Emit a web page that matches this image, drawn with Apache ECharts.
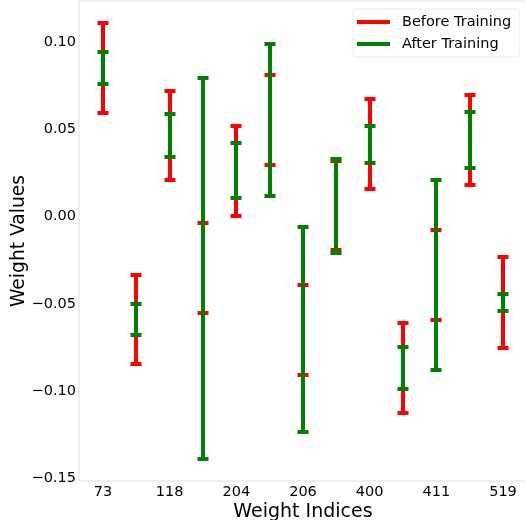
<!DOCTYPE html>
<html>
<head>
<meta charset="utf-8">
<script src="https://cdn.jsdelivr.net/npm/echarts@6/dist/echarts.min.js"></script>
<style>html,body{margin:0;padding:0;background:#fff;}#c{width:525px;height:520px;}</style>
</head>
<body>
<div id="c"></div>
<script>
// Tick labels shown on the x axis (every other weight position)
var tickLabels = ['73', '118', '204', '206', '400', '411', '519'];
// Range (low / high) of each weight before training
var beforeLow  = [0.0596, -0.0845, 0.0209, -0.0552, 0.0006, 0.0298, -0.0906, -0.0191, 0.0159, -0.1126, -0.0594, 0.0184, -0.0751];
var beforeHigh = [0.1112, -0.0333, 0.0723, -0.0038, 0.0520, 0.0814, -0.0390, 0.0318, 0.0673, -0.0610, -0.0078, 0.0698, -0.0233];
// Range (low / high) of each weight after training
var afterLow   = [0.0761, -0.0680, 0.0342, -0.1391, 0.0105, 0.0120, -0.1236, -0.0210, 0.0308, -0.0990, -0.0881, 0.0281, -0.0541];
var afterHigh  = [0.0946, -0.0499, 0.0589, 0.0797, 0.0421, 0.0988, -0.0061, 0.0328, 0.0520, -0.0745, 0.0209, 0.0599, -0.0443];
var yTicks = [-0.15, -0.10, -0.05, 0.00, 0.05, 0.10];

function build(lo, hi) {
  return lo.map(function (v, i) { return [i, v, hi[i]]; });
}
function renderBar(color) {
  return function (params, api) {
    var x = api.value(0);
    var pLo = api.coord([x, api.value(1)]);
    var pHi = api.coord([x, api.value(2)]);
    var cx = Math.round(pLo[0]);
    var yLo = Math.round(pLo[1]), yHi = Math.round(pHi[1]);
    var hw = 5.5;
    var st = { stroke: color, lineWidth: 4 };
    return {
      type: 'group',
      children: [
        { type: 'line', shape: { x1: cx, y1: yLo, x2: cx, y2: yHi }, style: st },
        { type: 'line', shape: { x1: cx - hw, y1: yLo, x2: cx + hw, y2: yLo }, style: st },
        { type: 'line', shape: { x1: cx - hw, y1: yHi, x2: cx + hw, y2: yHi }, style: st }
      ]
    };
  };
}
var font = 'DejaVu Sans';
var chart = echarts.init(document.getElementById('c'), null, { renderer: 'canvas' });
chart.setOption({
  animation: false,
  backgroundColor: '#fff',
  grid: { left: 79, top: 1, width: 448, height: 480, show: true, borderColor: '#dedede', borderWidth: 1, containLabel: false, outerBoundsMode: 'none' },
  legend: {
    orient: 'vertical', left: 353, top: 9,
    padding: [5, 8, 5, 4], itemGap: 6,
    itemWidth: 33, itemHeight: 4,
    borderColor: '#ececec', borderWidth: 1, borderRadius: 3,
    textStyle: { fontFamily: font, fontSize: 14.5, color: '#000', lineHeight: 16, padding: [0, 0, 0, 7] },
    data: [
      { name: 'Before Training', icon: 'rect', itemStyle: { color: '#ff0000' } },
      { name: 'After Training', icon: 'rect', itemStyle: { color: '#008000' } }
    ]
  },
  xAxis: {
    type: 'value', min: -0.72, max: 12.72,
    name: 'Weight Indices', nameLocation: 'middle', nameGap: 22, nameMoveOverlap: false,
    nameTextStyle: { fontFamily: font, fontSize: 19, color: '#000' },
    axisLine: { show: false }, axisTick: { show: false }, splitLine: { show: false },
    axisLabel: {
      customValues: [0, 2, 4, 6, 8, 10, 12],
      formatter: function (v) { return tickLabels[Math.round(v / 2)]; },
      fontFamily: font, fontSize: 14.5, color: '#000', margin: 4
    }
  },
  yAxis: {
    type: 'value', min: -0.1516, max: 0.1237,
    name: 'Weight Values', nameLocation: 'middle', nameGap: 50, nameMoveOverlap: false,
    nameTextStyle: { fontFamily: font, fontSize: 18.7, color: '#000' },
    axisLine: { show: false }, axisTick: { show: false }, splitLine: { show: false },
    axisLabel: {
      customValues: yTicks,
      formatter: function (v) { return v.toFixed(2).replace('-', '\u2212'); },
      fontFamily: font, fontSize: 14.5, color: '#000', margin: 3
    }
  },
  series: [
    { name: 'Before Training', type: 'custom', renderItem: renderBar('#ff0000'), itemStyle: { color: '#ff0000' }, data: build(beforeLow, beforeHigh), encode: { x: 0, y: [1, 2] } },
    { name: 'After Training', type: 'custom', renderItem: renderBar('#008000'), itemStyle: { color: '#008000' }, data: build(afterLow, afterHigh), encode: { x: 0, y: [1, 2] } }
  ]
});
</script>
</body>
</html>
